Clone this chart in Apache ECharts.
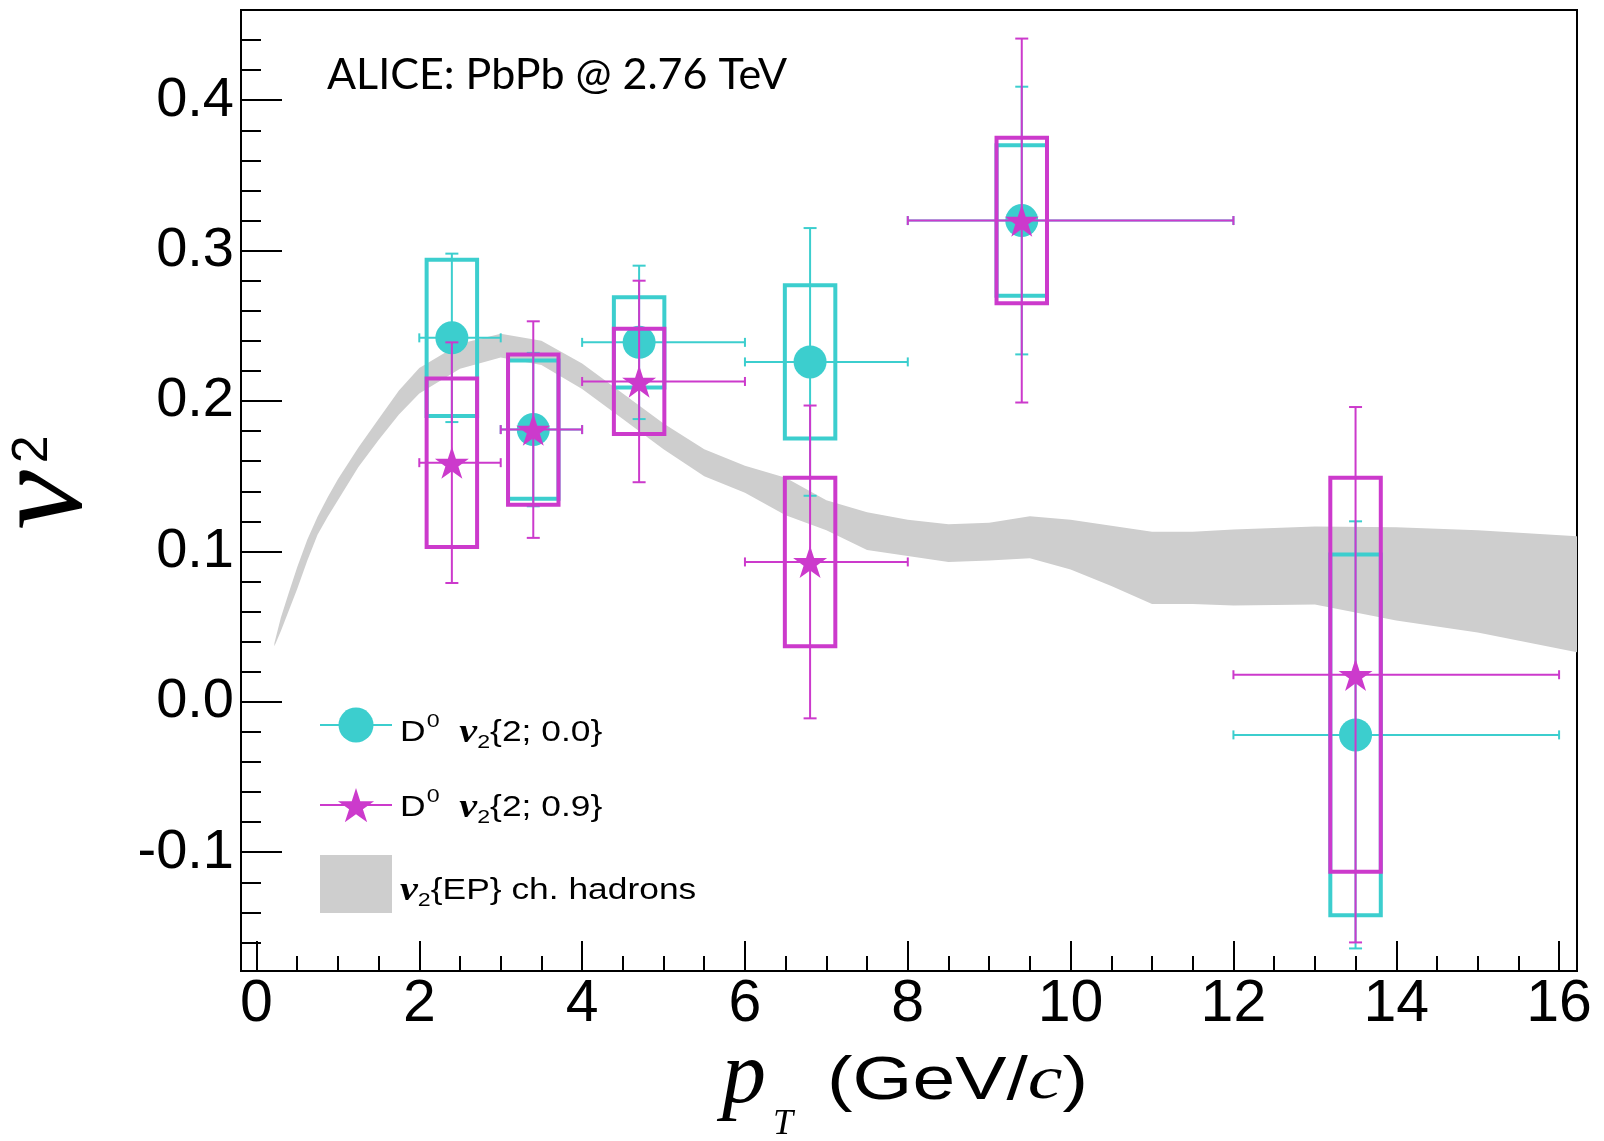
<!DOCTYPE html>
<html>
<head>
<meta charset="utf-8">
<script src="https://cdn.jsdelivr.net/npm/echarts@6/dist/echarts.min.js"></script>
<style>
  html, body { margin: 0; padding: 0; background: #fff; }
  #chart { width: 1604px; height: 1141px; }
</style>
</head>
<body>
<div id="chart"></div>
<script>
// pT bins (GeV/c): mean pT of each bin and its edges
const ptCenter = [2.4, 3.4, 4.7, 6.8, 9.4, 13.5];
const ptLow    = [2, 3, 4, 6, 8, 12];
const ptHigh   = [3, 4, 6, 8, 12, 16];

// D0 v2{2; 0.0}: value, statistical and systematic uncertainty
const v2Gap00   = [0.242, 0.181, 0.239, 0.226, 0.320, -0.022];
const statGap00 = [0.056, 0.051, 0.051, 0.089, 0.089, 0.142];
const systGap00 = [0.052, 0.046, 0.030, 0.051, 0.050, 0.120];

// D0 v2{2; 0.9}: value, statistical and systematic uncertainty
const v2Gap09   = [0.159, 0.181, 0.213, 0.093, 0.320, 0.018];
const statGap09 = [0.080, 0.072, 0.067, 0.104, 0.121, 0.178];
const systGap09 = [0.056, 0.050, 0.035, 0.056, 0.055, 0.131];

// charged-hadron v2{EP}: lower and upper edge of the band
const bandPt   = [0.22, 0.3, 0.4, 0.5, 0.625, 0.75, 0.875, 1.0, 1.25, 1.5, 1.75, 2.0, 2.5, 3.0, 3.5, 4.0, 4.5, 5.0, 5.5, 6.0, 6.5, 7.0, 7.5, 8.0, 8.5, 9.0, 9.5, 10.0, 10.5, 11.0, 11.5, 12.0, 13.0, 14.0, 15.0, 16.22];
const bandLow  = [0.037, 0.047, 0.061, 0.075, 0.094, 0.111, 0.123, 0.134, 0.156, 0.174, 0.191, 0.205, 0.2215, 0.229, 0.224, 0.208, 0.188, 0.168, 0.150, 0.139, 0.124, 0.114, 0.101, 0.097, 0.093, 0.094, 0.0955, 0.088, 0.077, 0.065, 0.065, 0.064, 0.0647, 0.054, 0.046, 0.033];
const bandHigh = [0.039, 0.056, 0.073, 0.0895, 0.108, 0.123, 0.136, 0.148, 0.169, 0.188, 0.207, 0.222, 0.238, 0.2448, 0.240, 0.225, 0.205, 0.185, 0.168, 0.157, 0.149, 0.134, 0.126, 0.121, 0.118, 0.119, 0.1233, 0.121, 0.117, 0.113, 0.113, 0.1145, 0.1166, 0.116, 0.114, 0.110];

const yTickLabels = ['-0.1', '0.0', '0.1', '0.2', '0.3', '0.4'];
const xTickLabels = ['0', '2', '4', '6', '8', '10', '12', '14', '16'];

const CYAN = '#3ccece';
const MAGENTA = '#cc3acc';
const BAND_GRAY = '#cecece';
const BOX_HALF_WIDTH = 0.31;   // half width of systematic boxes, in GeV/c
const STAR_PATH = 'path://M50,0L61.23,34.55L97.55,34.55L68.16,55.9L79.39,90.45L50,69.1L20.61,90.45L31.84,55.9L2.45,34.55L38.77,34.55Z';

// five-pointed star outline around a centre, for the legend icon
function starPoints(cx, cy, R) {
  const pts = [];
  for (let k = 0; k < 10; k++) {
    const r = k % 2 === 0 ? R : R * 0.382;
    const a = -Math.PI / 2 + k * Math.PI / 5;
    pts.push([cx + r * Math.cos(a), cy + r * Math.sin(a)]);
  }
  return pts;
}

// closed outline of the hadron band, drawn once through the axis scales
function bandRenderer(params, api) {
  if (params.dataIndex !== 0) return null;
  const upper = bandPt.map((x, i) => api.coord([x, bandHigh[i]]));
  const lower = bandPt.map((x, i) => api.coord([x, bandLow[i]])).reverse();
  return {
    type: 'polygon',
    shape: { points: upper.concat(lower) },
    style: { fill: BAND_GRAY, stroke: null }
  };
}

function boxRenderer(color) {
  return function (params, api) {
    const x = api.value(0), y = api.value(1), s = api.value(2);
    const a = api.coord([x - BOX_HALF_WIDTH, y + s]);
    const b = api.coord([x + BOX_HALF_WIDTH, y - s]);
    return {
      type: 'rect',
      shape: { x: a[0], y: a[1], width: b[0] - a[0], height: b[1] - a[1] },
      style: { fill: null, stroke: color, lineWidth: 4 }
    };
  };
}

function errorRenderer(color) {
  return function (params, api) {
    const x = api.value(0), y = api.value(1);
    const lo = api.value(2), hi = api.value(3), e = api.value(4);
    const pL = api.coord([lo, y]), pR = api.coord([hi, y]);
    const pT = api.coord([x, y + e]), pB = api.coord([x, y - e]);
    const capH = 4.5, capV = 6.5;
    const seg = (x1, y1, x2, y2) => ({
      type: 'line',
      shape: { x1, y1, x2, y2 },
      style: { stroke: color, lineWidth: 2, fill: null }
    });
    return {
      type: 'group',
      children: [
        seg(pL[0], pL[1], pR[0], pR[1]),
        seg(pL[0], pL[1] - capH, pL[0], pL[1] + capH),
        seg(pR[0], pR[1] - capH, pR[0], pR[1] + capH),
        seg(pT[0], pT[1], pB[0], pB[1]),
        seg(pT[0] - capV, pT[1], pT[0] + capV, pT[1]),
        seg(pB[0] - capV, pB[1], pB[0] + capV, pB[1])
      ]
    };
  };
}

const boxData = (vals, syst) => ptCenter.map((x, i) => [x, vals[i], syst[i]]);
const errData = (vals, stat) => ptCenter.map((x, i) => [x, vals[i], ptLow[i], ptHigh[i], stat[i]]);
const pointData = (vals) => ptCenter.map((x, i) => [x, vals[i]]);

const isOnGrid = (v, step) => Math.abs(v / step - Math.round(v / step)) < 1e-6;

const legendRich = {
  d: { fontFamily: 'Liberation Sans', fontSize: 29, color: '#000' },
  sup: { fontFamily: 'Liberation Sans', fontSize: 19, color: '#000', padding: [0, 0, 22, 1] },
  v: { fontFamily: 'Liberation Serif', fontStyle: 'italic', fontWeight: 'bold', fontSize: 33, color: '#000' },
  sub: { fontFamily: 'Liberation Sans', fontSize: 19, color: '#000', padding: [20, 0, 0, 0] },
  t: { fontFamily: 'Liberation Sans', fontSize: 29, color: '#000' }
};

function legendText(y, text) {
  return {
    type: 'text', x: 400, y: y, scaleX: 1.22,
    style: {
      text: text,
      fontFamily: 'Liberation Sans', fontSize: 29, fill: '#000', verticalAlign: 'middle',
      rich: legendRich
    }
  };
}

const chart = echarts.init(document.getElementById('chart'), null, { renderer: 'canvas' });

const option = {
  animation: false,
  backgroundColor: '#fff',
  title: {
    text: 'ALICE: PbPb @ 2.76 TeV',
    left: 322,
    top: 49,
    textStyle: { fontFamily: 'Lato', fontSize: 43, fontWeight: 'normal', color: '#000' }
  },
  grid: {
    left: 241, right: 27, top: 10, bottom: 170,
    show: true, borderColor: '#000', borderWidth: 2,
    outerBoundsMode: 'none'
  },
  xAxis: {
    type: 'value',
    min: -0.19, max: 16.22, splitNumber: 8,
    axisLine: { onZero: false, lineStyle: { color: '#000', width: 2 } },
    axisTick: { inside: true, length: 30, lineStyle: { color: '#000', width: 2 } },
    minorTick: { show: true, splitNumber: 4, length: 15, lineStyle: { color: '#000', width: 2 } },
    splitLine: { show: false },
    axisLabel: {
      margin: 4,
      fontFamily: 'Liberation Sans', fontSize: 59, color: '#000',
      formatter: (v) => {
        const k = xTickLabels.indexOf(String(Math.round(v)));
        return isOnGrid(v, 2) && k >= 0 ? xTickLabels[k] : '';
      }
    }
  },
  yAxis: {
    type: 'value',
    min: -0.179, max: 0.46, splitNumber: 6,
    axisLine: { onZero: false, lineStyle: { color: '#000', width: 2 } },
    axisTick: { inside: true, length: 41, lineStyle: { color: '#000', width: 2 } },
    minorTick: { show: true, splitNumber: 5, length: 20, lineStyle: { color: '#000', width: 2 } },
    splitLine: { show: false },
    axisLabel: {
      margin: 7,
      fontFamily: 'Liberation Sans', fontSize: 56, color: '#000',
      formatter: (v) => {
        if (!isOnGrid(v, 0.1)) return '';
        const s = (Math.round(v * 10) / 10).toFixed(1);
        return yTickLabels.indexOf(s) >= 0 ? s : '';
      }
    },
    name: '{v|v}{s|2}',
    nameLocation: 'middle',
    nameRotate: 90,
    nameGap: 128,
    nameTextStyle: {
      color: '#000',
      rich: {
        v: { fontFamily: 'Liberation Serif', fontStyle: 'italic', fontSize: 134, color: '#000', padding: [0, 0, 0, 16] },
        s: { fontFamily: 'Liberation Sans', fontSize: 50, color: '#000', padding: [0, 0, 26, 7] }
      }
    }
  },
  graphic: {
    elements: [
      // x-axis title: pT (GeV/c)
      {
        type: 'text', x: 722, y: 1079,
        style: { text: 'p', fontFamily: 'Liberation Serif', fontStyle: 'italic', fontSize: 88, fill: '#000', verticalAlign: 'middle' }
      },
      {
        type: 'text', x: 773, y: 1125,
        style: { text: 'T', fontFamily: 'Liberation Serif', fontStyle: 'italic', fontSize: 36, fill: '#000', verticalAlign: 'middle' }
      },
      {
        type: 'text', x: 827, y: 1082, scaleX: 1.26,
        style: {
          text: '{n|(GeV/}{c|c}{n|)}',
          fontFamily: 'Liberation Sans', fontSize: 61, fill: '#000', verticalAlign: 'middle',
          rich: {
            n: { fontFamily: 'Liberation Sans', fontSize: 61, color: '#000' },
            c: { fontFamily: 'Liberation Serif', fontStyle: 'italic', fontSize: 62, color: '#000' }
          }
        }
      },
      // legend
      { type: 'line', shape: { x1: 320, y1: 725, x2: 392, y2: 725 }, style: { stroke: CYAN, lineWidth: 2 } },
      { type: 'circle', shape: { cx: 356, cy: 725, r: 17.5 }, style: { fill: CYAN } },
      { type: 'line', shape: { x1: 320, y1: 805, x2: 392, y2: 805 }, style: { stroke: MAGENTA, lineWidth: 2 } },
      { type: 'polygon', shape: { points: starPoints(356, 807, 19) }, style: { fill: MAGENTA } },
      { type: 'rect', shape: { x: 320, y: 855, width: 72, height: 58 }, style: { fill: BAND_GRAY } },
      legendText(733, '{d|D}{sup|0}  {v|v}{sub|2}{t|{2; 0.0}}'),
      legendText(808, '{d|D}{sup|0}  {v|v}{sub|2}{t|{2; 0.9}}'),
      legendText(891, '{v|v}{sub|2}{t|{EP}} ch. hadrons')
    ]
  },
  series: [
    {
      name: 'v2{EP} ch. hadrons', type: 'custom', z: 1, silent: true,
      renderItem: bandRenderer,
      encode: { x: 0, y: [1, 2] },
      data: bandPt.map((x, i) => [x, bandLow[i], bandHigh[i]])
    },
    { type: 'custom', z: 2, renderItem: boxRenderer(CYAN), encode: { x: 0, y: 1 }, data: boxData(v2Gap00, systGap00) },
    { type: 'custom', z: 3, renderItem: errorRenderer(CYAN), encode: { x: 0, y: 1 }, data: errData(v2Gap00, statGap00) },
    { type: 'scatter', z: 4, symbol: 'circle', symbolSize: 33, itemStyle: { color: CYAN, opacity: 1 }, data: pointData(v2Gap00) },
    { type: 'custom', z: 5, renderItem: boxRenderer(MAGENTA), encode: { x: 0, y: 1 }, data: boxData(v2Gap09, systGap09) },
    { type: 'custom', z: 6, renderItem: errorRenderer(MAGENTA), encode: { x: 0, y: 1 }, data: errData(v2Gap09, statGap09) },
    { type: 'scatter', z: 7, symbol: STAR_PATH, symbolKeepAspect: true, symbolSize: 34, itemStyle: { color: MAGENTA, opacity: 1 }, data: pointData(v2Gap09) }
  ]
};

chart.setOption(option);
</script>
</body>
</html>
